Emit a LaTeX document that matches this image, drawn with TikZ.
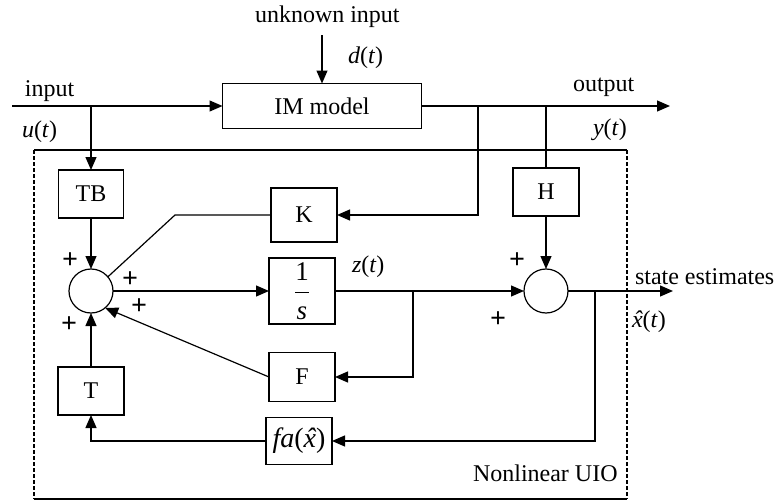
\documentclass[tikz,border=0pt]{standalone}
\usepackage{fontspec}
\setmainfont{Liberation Serif}
\usetikzlibrary{arrows.meta}
\newcommand{\xhat}{\ooalign{\textit{x}\cr\hidewidth\kern0.08em\textit{\char"02C6}\hidewidth\cr}}
\tikzset{
  blk/.style={draw,line width=0.6pt,inner sep=0pt,outer sep=0pt,font=\fontsize{12}{14.4}\selectfont},
  sumc/.style={draw,circle,line width=0.6pt,minimum size=22pt,inner sep=0pt,outer sep=0pt},
  lbl/.style={inner sep=0pt,outer sep=0pt,anchor=base west,font=\fontsize{12}{14.4}\selectfont},
  sgn/.style={inner sep=0pt,outer sep=0pt,font=\bfseries\fontsize{14}{16.8}\selectfont},
  conn/.style={line width=0.6pt},
  arr/.style={conn,-{Triangle[length=6.5pt,width=5.5pt]}},
}
\begin{document}
\begin{tikzpicture}[x=.5pt,y=-.5pt]
\path[use as bounding box] (0,0) rectangle (778,503);
% observer frame
\draw[line width=1pt] (34,150) -- (627,150);
\draw[line width=1pt] (34,499) -- (627,499);
\draw[conn,dash pattern=on 2pt off 1pt] (34,150) -- (34,499);
\draw[conn,dash pattern=on 2pt off 1pt] (627,150) -- (627,499);
% blocks
\node[blk,minimum width=99.5pt,minimum height=22.5pt] (im) at (322,106) {IM model};
\node[blk,minimum width=32.5pt,minimum height=24pt] (tb) at (91,194) {TB};
\node[blk,minimum width=33pt,minimum height=27pt] (k) at (304,215) {K};
\node[blk,minimum width=33pt,minimum height=24pt] (h) at (546,192) {H};
\node[blk,minimum width=33pt,minimum height=33pt,font=\fontsize{13.5}{16}\selectfont] (ones) at (302,291) {$\displaystyle\frac{\mbox{1}}{\mbox{\itshape s}}$};
\node[blk,minimum width=33pt,minimum height=24.5pt] (f) at (302,377) {F};
\node[blk,minimum width=33pt,minimum height=24pt] (t) at (91,391) {T};
\node[blk,minimum width=33pt,minimum height=23.5pt,font=\fontsize{14}{16.8}\selectfont] (fa) at (299,441) {\textit{fa}(\xhat)};
\node[sumc] (s1) at (91,291) {};
\node[sumc] (s2) at (546,291) {};
% branch points and free ends
\coordinate (uin) at (12,106);
\coordinate (ubr) at (91,106);
\coordinate (dtop) at (322,35);
\coordinate (yend) at (670,106);
\coordinate (kbr) at (478,106);
\coordinate (hbr) at (546,106);
\coordinate (kbend) at (175,215);
\coordinate (zbr) at (413,291);
\coordinate (xbr) at (595,291);
\coordinate (xend) at (673,291);
% connectors
\draw[arr] (uin) -- (im.west);
\draw[arr] (ubr) -- (tb.north);
\draw[arr] (dtop) -- (im.north);
\draw[arr] (im.east) -- (yend);
\draw[arr] (kbr) |- (k.east);
\draw[conn] (hbr) -- (h.north);
\draw[arr] (h.south) -- (s2.north);
\draw[conn] (k.west) -- (kbend) -- (s1.40);
\draw[arr] (tb.south) -- (s1.north);
\draw[arr] (s1.east) -- (ones.west);
\draw[arr] (ones.east) -- (s2.west);
\draw[arr] (zbr) |- (f.east);
\draw[arr] (f.west) -- (s1.-50);
\draw[arr] (t.north) -- (s1.south);
\draw[arr] (s2.east) -- (xend);
\draw[arr] (xbr) |- (fa.east);
\draw[arr] (fa.west) -| (t.south);
% labels
\node[lbl] (lunk) at (255,23) {unknown input};
\node[lbl] (ld) at (348,63) {\textit{d}(\textit{t})};
\node[lbl] (linput) at (25,97) {input};
\node[lbl] (lu) at (22,137) {\textit{u}(\textit{t})};
\node[lbl] (lout) at (573,91) {output};
\node[lbl] (ly) at (593,135) {\textit{y}(\textit{t})};
\node[lbl] (lz) at (352,272) {\textit{z}(\textit{t})};
\node[lbl] (lstate) at (635,284) {state estimates};
\node[lbl] (lxhat) at (632,327) {\xhat(\textit{t})};
\node[lbl] (luio) at (473,481) {Nonlinear UIO};
% signs
\node[sgn] (p1) at (70,261) {+};
\node[sgn] (p2) at (130,280) {+};
\node[sgn] (p3) at (139,307) {+};
\node[sgn] (p4) at (69,325) {+};
\node[sgn] (p5) at (517,261) {+};
\node[sgn] (p6) at (498,320) {+};
\end{tikzpicture}
\end{document}
